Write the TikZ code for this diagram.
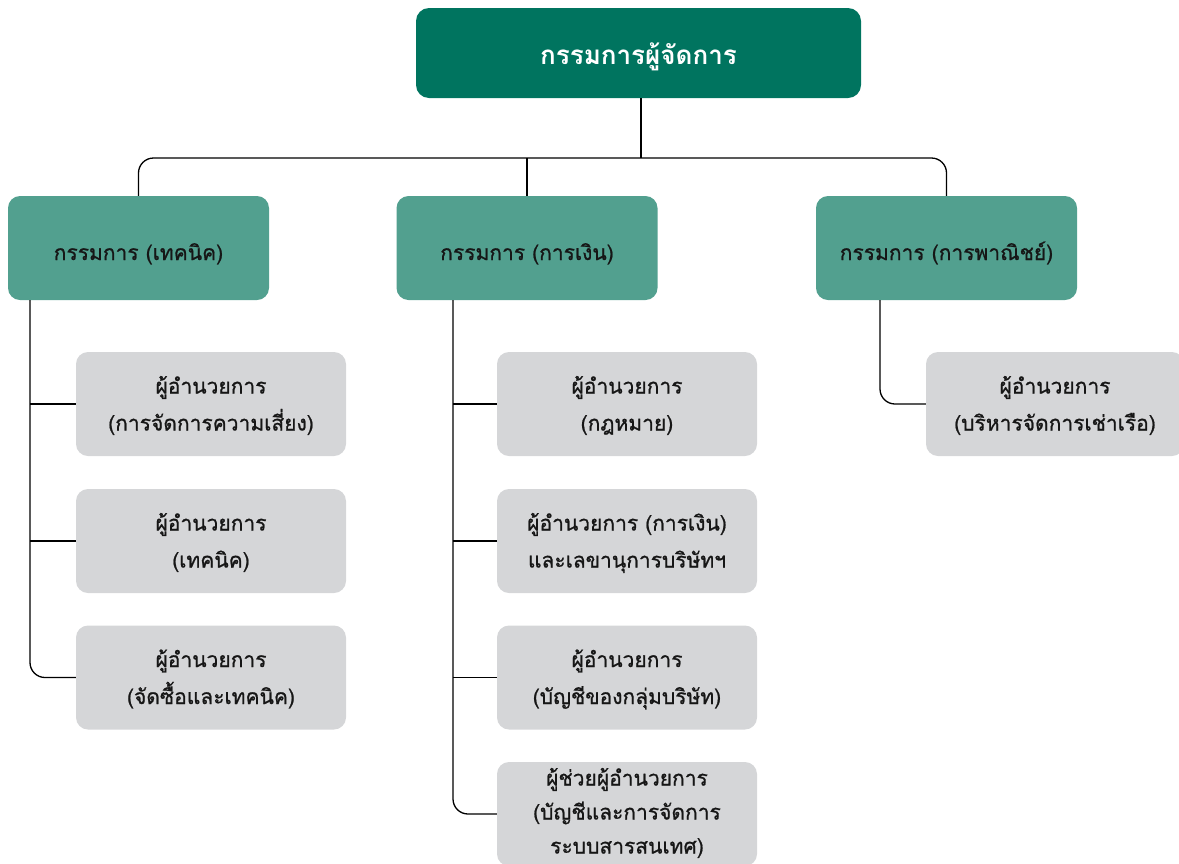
\documentclass[tikz,border=0pt]{standalone}
\usepackage{fontspec}
\setmainfont[Script=Thai]{Loma}
\newfontfamily\thaimedium[Script=Thai,FakeBold=0.9]{Loma}
\usetikzlibrary{positioning}
\definecolor{topgreen}{HTML}{00745F}
\definecolor{midgreen}{HTML}{52A08F}
\definecolor{boxgray}{HTML}{D5D6D8}
\definecolor{ink}{HTML}{161616}
\begin{document}
\begin{tikzpicture}[x=1pt,y=-1pt,
  topbox/.style={fill=topgreen, rounded corners=13pt, minimum width=445pt, minimum height=90pt,
    text=white, font=\bfseries\fontsize{26}{30}\selectfont, inner sep=0pt,
    text height=22pt, text depth=0pt},
  headbox/.style={fill=midgreen, rounded corners=12pt, minimum width=261pt, minimum height=104pt,
    text=ink, font=\thaimedium\fontsize{21}{25}\selectfont, inner sep=0pt,
    text height=24pt, text depth=0pt},
  unitbox/.style={fill=boxgray, rounded corners=12pt, minimum width=270pt, minimum height=104pt,
    text=ink, font=\thaimedium\fontsize{21}{37}\selectfont, align=center, inner sep=0pt,
    text height=53pt, text depth=0pt},
  threelines/.style={font=\thaimedium\fontsize{21}{34}\selectfont,
    text height=79pt, text depth=0pt},
  conn/.style={draw=black, line width=1.3pt, rounded corners=15pt}
]
\useasboundingbox (0,0) rectangle (1179,863);
\begin{scope}
\clip (0,0) rectangle (1179,863);

% top level
\node[topbox] (top) at (638.5,53) {กรรมการผู้จัดการ};

% directors
\node[headbox] (techdir) at (138.5,248) {กรรมการ (เทคนิค)};
\node[headbox] (findir)  at (527,248)   {กรรมการ (การเงิน)};
\node[headbox] (comdir)  at (946.5,248) {กรรมการ (การพาณิชย์)};

% technical units
\node[unitbox] (t1) at (211,404) {ผู้อำนวยการ\\(การจัดการความเสี่ยง)};
\node[unitbox] (t2) at (211,541) {ผู้อำนวยการ\\(เทคนิค)};
\node[unitbox] (t3) at (211,677.5) {ผู้อำนวยการ\\(จัดซื้อและเทคนิค)};

% finance units
\node[unitbox, minimum width=260pt] (f1) at (627,404) {ผู้อำนวยการ\\(กฎหมาย)};
\node[unitbox, minimum width=260pt] (f2) at (627,541) {ผู้อำนวยการ (การเงิน)\\และเลขานุการบริษัทฯ};
\node[unitbox, minimum width=260pt] (f3) at (627,677.5) {ผู้อำนวยการ\\(บัญชีของกลุ่มบริษัท)};
\node[unitbox, threelines, minimum width=260pt] (f4) at (627,814) {ผู้ช่วยผู้อำนวยการ\\(บัญชีและการจัดการ\\ระบบสารสนเทศ)};

% commercial unit
\node[unitbox, minimum width=258pt] (c1) at (1055,404) {ผู้อำนวยการ\\(บริหารจัดการเช่าเรือ)};

% connectors: top to directors
\coordinate (bus) at (641,158);
\draw[conn] (top.south -| bus) -- (bus);
\draw[conn] (techdir.north) |- (bus) -| (comdir.north);
\draw[conn] (findir.north) -- (findir.north |- bus);

% connectors: technical
\coordinate (tspine) at (30,300);
\draw[conn] (techdir.south -| tspine) |- (t3.west);
\draw[conn] (t1.west) -- (t1.west -| tspine);
\draw[conn] (t2.west) -- (t2.west -| tspine);

% connectors: finance
\coordinate (fspine) at (453,300);
\draw[conn] (findir.south -| fspine) |- (f4.west);
\draw[conn] (f1.west) -- (f1.west -| fspine);
\draw[conn] (f2.west) -- (f2.west -| fspine);
\draw[conn] (f3.west) -- (f3.west -| fspine);

% connectors: commercial
\coordinate (cspine) at (880,300);
\draw[conn] (comdir.south -| cspine) |- (c1.west);
\end{scope}
\end{tikzpicture}
\end{document}
